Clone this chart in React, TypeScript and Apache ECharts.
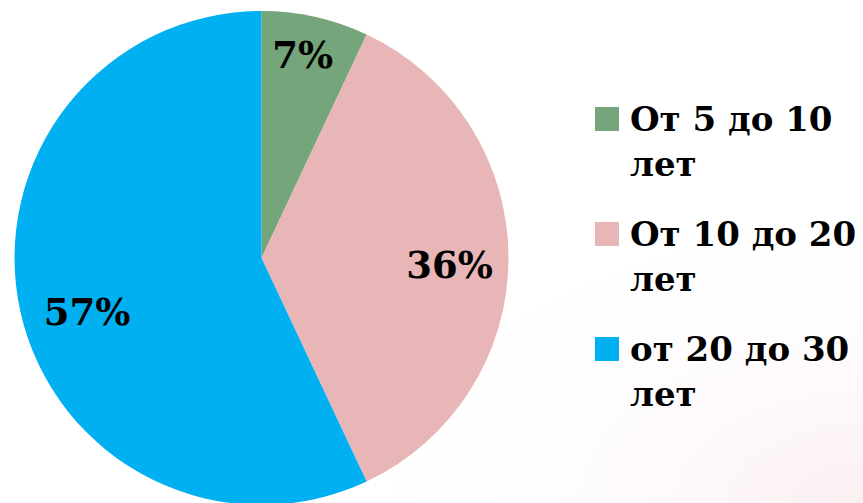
import React, { useEffect, useRef } from "react";
import * as echarts from "echarts";

const categories = ["От 5 до 10 лет", "От 10 до 20 лет", "от 20 до 30 лет"];
const values = [7, 36, 57];
const colors = ["#75A57A", "#E8B6B7", "#00B0F0"];
// label distance from centre as share of radius, and small nudges (px)
const labelRadius = [0.82, 0.77, 0.74];
const labelNudge = [[-3, -5], [-2, 7], [4, 14]];

const CX = 261.5;
const CY = 258;
const R = 247;
const FONT = "DejaVu Serif";

// legend layout
const LEG_X = 595;
const LEG_Y = 107;
const LEG_STEP = 115;
const LEG_BOX = 24;

export default function App() {
  const ref = useRef<HTMLDivElement>(null);
  useEffect(() => {
    if (!ref.current) return;
    const chart = echarts.init(ref.current, null, { renderer: "svg" });
    const total = values.reduce((a, b) => a + b, 0);
    const mids: number[] = [];
    let acc = 0;
    values.forEach((v) => {
      mids.push(((acc + v / 2) / total) * Math.PI * 2);
      acc += v;
    });
    const legendEls: any[] = [];
    categories.forEach((c, i) => {
      const y = LEG_Y + i * LEG_STEP;
      legendEls.push({
        type: "rect",
        silent: true,
        shape: { x: LEG_X, y, width: LEG_BOX, height: LEG_BOX },
        style: { fill: colors[i] },
      });
      legendEls.push({
        type: "text",
        silent: true,
        x: LEG_X + LEG_BOX + 11,
        y: y + LEG_BOX / 2 - 22.5,
        style: {
          text: c.replace(" лет", "\nлет"),
          fontFamily: FONT,
          fontWeight: "bold",
          fontSize: 34,
          lineHeight: 45,
          fill: "#000",
          align: "left",
          verticalAlign: "top",
        },
      });
    });
    chart.setOption({
      animation: false,
      backgroundColor: "#ffffff",
      graphic: [
        {
          type: "rect",
          z: -10,
          silent: true,
          shape: { x: 0, y: 0, width: 863, height: 503 },
          style: {
            fill: new echarts.graphic.RadialGradient(1, 1, 0.6, [
              { offset: 0, color: "rgba(248,222,228,0.5)" },
              { offset: 1, color: "rgba(255,255,255,0)" },
            ]),
          },
        },
        ...legendEls,
      ],
      series: [
        {
          type: "pie",
          center: [CX, CY],
          radius: R,
          startAngle: 90,
          clockwise: true,
          silent: true,
          data: categories.map((c, i) => ({
            name: c,
            value: values[i],
            itemStyle: { color: colors[i] },
          })),
          label: {
            show: true,
            position: "inside",
            formatter: "{d}%",
            fontFamily: FONT,
            fontWeight: "bold",
            fontSize: 37,
            color: "#000",
          },
          labelLine: { show: false },
          labelLayout: (p: any) => {
            const i = p.dataIndex;
            const a = mids[i];
            const r = R * labelRadius[i];
            return {
              x: CX + r * Math.sin(a) + labelNudge[i][0],
              y: CY - r * Math.cos(a) + labelNudge[i][1],
              align: "center",
              verticalAlign: "middle",
            };
          },
        },
      ],
    });
    return () => chart.dispose();
  }, []);
  return (
    <div
      ref={ref}
      style={{ position: "fixed", left: 0, top: 0, width: 863, height: 503 }}
    />
  );
}
